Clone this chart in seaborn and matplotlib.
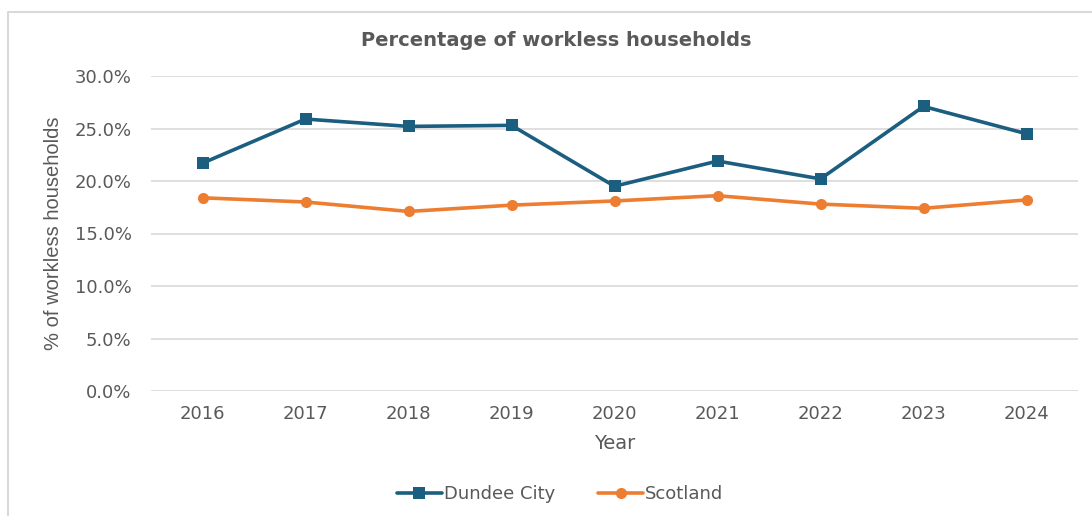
import pandas as pd
import matplotlib.pyplot as plt
import seaborn as sns
from matplotlib.lines import Line2D
from matplotlib.ticker import PercentFormatter

# ------------------------------------------------------------
# 데이터
# ------------------------------------------------------------
years = ["2016", "2017", "2018", "2019", "2020", "2021", "2022", "2023", "2024"]
dundee = [21.7, 25.9, 25.2, 25.3, 19.5, 21.9, 20.2, 27.1, 24.5]
scotland = [18.4, 18.0, 17.1, 17.7, 18.1, 18.6, 17.8, 17.4, 18.2]

df = pd.DataFrame({
    "Year": years * 2,
    "value": dundee + scotland,
    "area": ["Dundee City"] * len(years) + ["Scotland"] * len(years),
})

# ------------------------------------------------------------
# 스타일
# ------------------------------------------------------------
sns.set_theme(style="white")
plt.rcParams["font.family"] = ["DejaVu Sans"]
text_col = "#595959"
palette = {"Dundee City": "#1B5E80", "Scotland": "#ED7D31"}

fig = plt.figure(figsize=(10.92, 5.16), dpi=100)
ax = fig.add_axes([151 / 1092, 1 - 391 / 516, (1078 - 151) / 1092, (391 - 76) / 516])

sns.lineplot(
    data=df, x="Year", y="value", hue="area", style="area",
    markers={"Dundee City": "s", "Scotland": "o"}, dashes=False,
    palette=palette, linewidth=2.6, markersize=8, markeredgewidth=0,
    sort=False, ax=ax, legend=False,
)

ax.set_xlim(-0.5, len(years) - 0.5)
ax.set_ylim(0, 30)
ax.set_yticks(range(0, 31, 5))
ax.yaxis.set_major_formatter(PercentFormatter(decimals=1))
ax.grid(axis="y", color="#D9D9D9", linewidth=1.2)
ax.set_axisbelow(True)
for s in ax.spines.values():
    s.set_visible(False)
ax.tick_params(axis="both", length=0, labelsize=13, colors=text_col, pad=10)
ax.tick_params(axis="y", pad=14)

ax.set_xlabel("Year", fontsize=14, color=text_col, labelpad=8)
ax.set_ylabel("% of workless households", fontsize=14.5, color=text_col, labelpad=8,
              family=["Liberation Sans", "DejaVu Sans"])
fig.text(556 / 1092, 1 - 41 / 516, "Percentage of workless households",
         ha="center", va="center", fontsize=14, fontweight="bold", color=text_col)

handles = [
    Line2D([], [], color=palette["Dundee City"], marker="s", lw=2.6, ms=8, mew=0),
    Line2D([], [], color=palette["Scotland"], marker="o", lw=2.6, ms=8, mew=0),
]
fig.legend(handles, ["Dundee City", "Scotland"], loc="center",
           bbox_to_anchor=(560 / 1092, 1 - 494 / 516), ncol=2, frameon=False,
           fontsize=13, labelcolor=text_col, handlelength=2.5, handletextpad=0.1,
           columnspacing=2.4)

# 차트 테두리
fig.add_artist(Line2D([8 / 1092, 8 / 1092, 1.0], [0, 1 - 12 / 516, 1 - 12 / 516],
                      transform=fig.transFigure, color="#D9D9D9", lw=1.5))

fig.savefig("out.png", dpi=100)
